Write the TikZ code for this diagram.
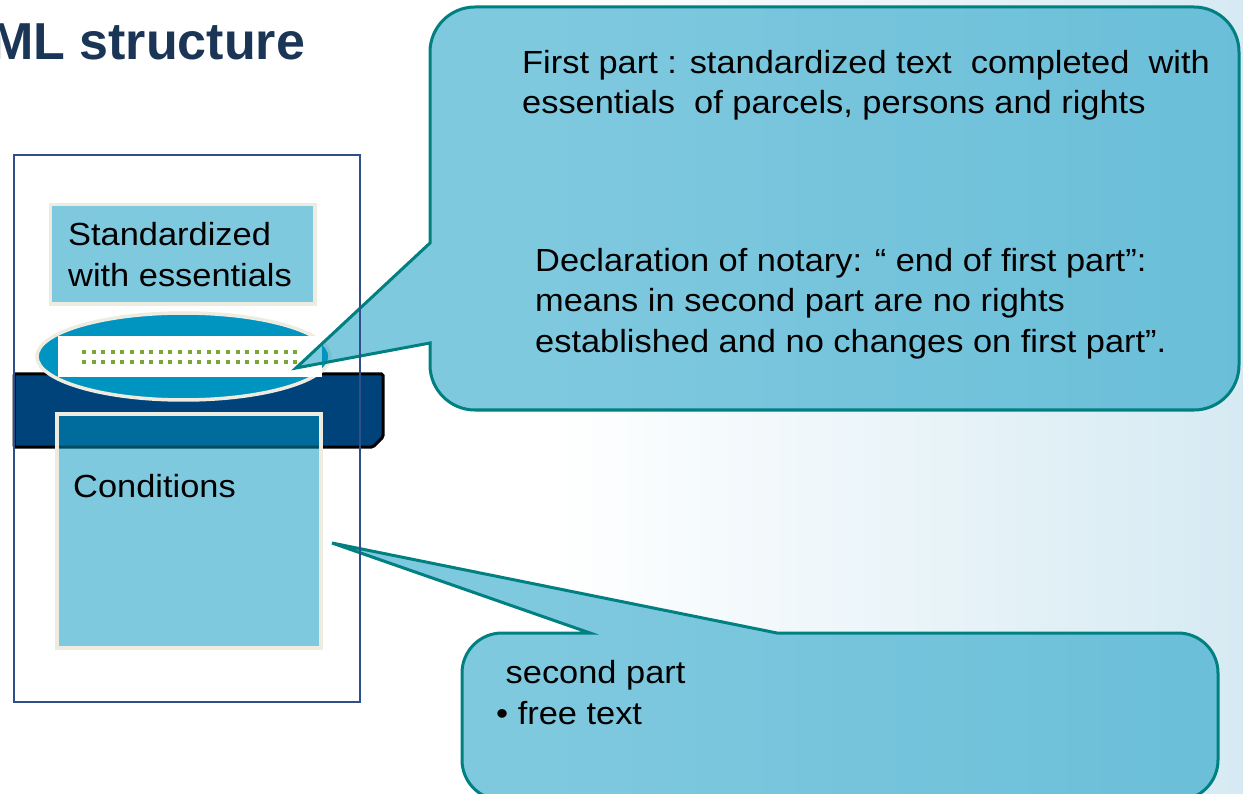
\documentclass[tikz,border=0pt]{standalone}
\usepackage{fontspec}
\setmainfont{Liberation Sans}[FakeStretch=1.075]
\newfontfamily\titlefont{Liberation Sans}
\definecolor{titlenavy}{HTML}{1B3556}
\definecolor{boxblue}{HTML}{0094C0}
\definecolor{barnavy}{HTML}{00427A}
\definecolor{creamline}{HTML}{EEEBE0}
\definecolor{calloutteal}{HTML}{008080}
\definecolor{framenavy}{HTML}{2F4F8A}
\definecolor{dotgreen}{HTML}{78A832}
\definecolor{bgblue}{HTML}{D6EAF3}
\tikzset{
  part/.style={fill=boxblue, fill opacity=0.5, draw=creamline, draw opacity=1, line width=4pt},
  callout/.style={fill=boxblue, fill opacity=0.5, draw=calloutteal, draw opacity=1, line width=3pt},
  body/.style={font=\fontsize{32}{40}\selectfont, inner sep=0pt, align=left},
}
\begin{document}
\begin{tikzpicture}[x=1pt,y=-1pt]
\useasboundingbox (0,0) rectangle (1243,794);
\clip (0,0) rectangle (1243,794);
\fill[white] (0,0) rectangle (550,794);
\shade[left color=white, right color=bgblue] (550,0) rectangle (1243,794);

% title
\node[anchor=base west, inner sep=0pt, text=titlenavy, font=\titlefont\fontsize{52}{60}\selectfont\bfseries] (title) at (-10,60) {ML structure};

% deed on the left
\draw[black, line width=3pt, fill=barnavy, rounded corners=1.5pt] (14,374) -- (383,374) -- (383,437) -- (373,447) -- (14,447) -- cycle;
\draw[creamline, line width=3.5pt, fill=boxblue] (183.5,356.5) ellipse [x radius=146.5, y radius=43.5];
\fill[white] (58,336) rectangle (322,377);
\foreach \i in {0,...,22} {
  \fill[dotgreen] (82+9.6*\i,350) rectangle ++(4,4);
  \fill[dotgreen] (82+9.6*\i,360) rectangle ++(4,4);
}
\draw[part, line width=3.5pt] (50.5,204.5) rectangle (315,304);
\draw[part] (57,414) rectangle (321,648);

% callouts
\draw[callout] (430,243) -- (430,52) arc (180:270:45) -- (1194,7) arc (270:360:45)
  -- (1239,365) arc (0:90:45) -- (475,410) arc (90:180:45) -- (430,343) -- (296,368) -- cycle;
\draw[callout] (590,633) -- (332,543) -- (777,633) -- (1178,633) arc (270:360:40)
  -- (1218,760) arc (0:90:40) -- (502,800) arc (90:180:40) -- (462,673) arc (180:270:40) -- cycle;

\draw[framenavy, line width=1.2pt] (14,155) rectangle (360,702);

% texts
\node[body, anchor=north west] (std) at (68,221.7) {Standardized\\[1pt]with essentials};
\node[body, anchor=base west] (cond) at (73,497) {Conditions};
\node[body, anchor=north west] (first) at (522,49.7) {First part : standardized text~ completed~ with\\essentials~ of parcels, persons and rights};
\node[body, anchor=north west] (decl) at (535,247.7) {Declaration of notary: “ end of first part”:\\[0.5pt]means in second part are no rights\\[0.5pt]established and no changes on first part”.};
\node[body, anchor=north west] (second) at (496,659.7) {\hspace*{9.5pt}second part\\[1pt]\textbullet{} free text};
\end{tikzpicture}
\end{document}
